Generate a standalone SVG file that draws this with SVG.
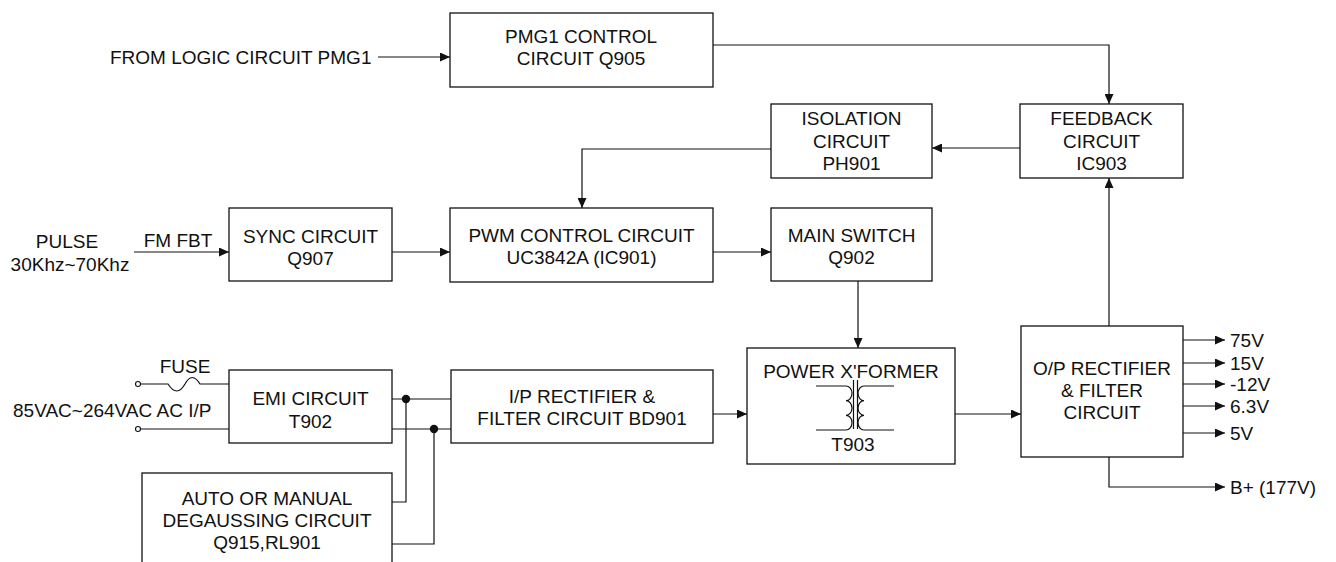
<svg xmlns="http://www.w3.org/2000/svg" width="1336" height="562" viewBox="0 0 1336 562">
<style>
text{font-family:"Liberation Sans",Arial,sans-serif;font-size:19px;fill:#111}
.c{text-anchor:middle}
.box{fill:#fff;stroke:#111;stroke-width:1.3}
.ln{fill:none;stroke:#111;stroke-width:1.2}
.ar{fill:none;stroke:#111;stroke-width:1.2;marker-end:url(#ah)}
</style>
<defs>
<marker id="ah" markerUnits="userSpaceOnUse" markerWidth="10" markerHeight="9" refX="10" refY="4.5" orient="auto">
<path d="M0,0 L10,4.5 L0,9 z" fill="#111"/>
</marker>
</defs>
<rect width="1336" height="562" fill="#fff"/>

<g id="connectors">
<path class="ar" d="M378,57 H450"/>
<path class="ar" d="M713,45 H1109 V104"/>
<path class="ar" d="M1020,148 H932"/>
<path class="ar" d="M771,149 H582 V208"/>
<path class="ar" d="M134,252 H229"/>
<path class="ar" d="M392,252 H450"/>
<path class="ar" d="M713,252 H771"/>
<path class="ar" d="M858,281 V348"/>
<path class="ar" d="M713,414 H747"/>
<path class="ar" d="M955,414 H1021"/>
<path class="ar" d="M1109,326 V178"/>
<path class="ar" d="M1183,340 H1225"/>
<path class="ar" d="M1183,363 H1225"/>
<path class="ar" d="M1183,384 H1225"/>
<path class="ar" d="M1183,406 H1225"/>
<path class="ar" d="M1183,433 H1225"/>
<path class="ar" d="M1109,457 V487 H1225"/>
<path class="ln" d="M392,399 H451"/>
<path class="ln" d="M392,429 H451"/>
<path class="ln" d="M406,399 V502 H392"/>
<path class="ln" d="M434,429 V544 H392"/>
<circle cx="406" cy="399" r="4.2" fill="#111"/>
<circle cx="434" cy="429" r="4.2" fill="#111"/>
<circle cx="138" cy="384" r="2.5" fill="#fff" stroke="#111" stroke-width="1.1"/>
<circle cx="138" cy="429" r="2.5" fill="#fff" stroke="#111" stroke-width="1.1"/>
<path class="ln" d="M140.5,384 H168 Q177,398 185,384 Q192,371 200,384 H229"/>
<path class="ln" d="M140.5,429 H229"/>
</g>

<g id="from-logic">
<text x="110" y="64">FROM LOGIC CIRCUIT PMG1</text>
</g>

<g id="pmg1-control">
<rect class="box" x="450" y="13" width="263" height="74"/>
<text class="c" x="581" y="43">PMG1 CONTROL</text>
<text class="c" x="581" y="65">CIRCUIT Q905</text>
</g>

<g id="isolation">
<rect class="box" x="771" y="104" width="161" height="74"/>
<text class="c" x="851.5" y="125">ISOLATION</text>
<text class="c" x="851.5" y="148">CIRCUIT</text>
<text class="c" x="851.5" y="170">PH901</text>
</g>

<g id="feedback">
<rect class="box" x="1020" y="104" width="163" height="74"/>
<text class="c" x="1101.5" y="125">FEEDBACK</text>
<text class="c" x="1101.5" y="148">CIRCUIT</text>
<text class="c" x="1101.5" y="170">IC903</text>
</g>

<g id="pulse">
<text class="c" x="67" y="248">PULSE</text>
<text class="c" x="70" y="271">30Khz~70Khz</text>
<text class="c" x="178" y="247">FM FBT</text>
</g>

<g id="sync">
<rect class="box" x="229" y="208" width="163" height="73"/>
<text class="c" x="310.5" y="243">SYNC CIRCUIT</text>
<text class="c" x="310.5" y="265">Q907</text>
</g>

<g id="pwm">
<rect class="box" x="450" y="208" width="263" height="74"/>
<text class="c" x="581.5" y="242">PWM CONTROL CIRCUIT</text>
<text class="c" x="581.5" y="264">UC3842A (IC901)</text>
</g>

<g id="main-switch">
<rect class="box" x="771" y="208" width="161" height="73"/>
<text class="c" x="851.5" y="242">MAIN SWITCH</text>
<text class="c" x="851.5" y="264">Q902</text>
</g>

<g id="ac-input">
<text class="c" x="185" y="373">FUSE</text>
<text x="13" y="417">85VAC~264VAC AC I/P</text>
</g>

<g id="emi">
<rect class="box" x="229" y="370" width="163" height="73"/>
<text class="c" x="310.5" y="405">EMI CIRCUIT</text>
<text class="c" x="310.5" y="428">T902</text>
</g>

<g id="degaussing">
<rect class="box" x="142" y="473" width="250" height="95"/>
<text class="c" x="267" y="505">AUTO OR MANUAL</text>
<text class="c" x="267" y="527">DEGAUSSING CIRCUIT</text>
<text class="c" x="267" y="549">Q915,RL901</text>
</g>

<g id="ip-rectifier">
<rect class="box" x="451" y="370" width="262" height="73"/>
<text class="c" x="582" y="403">I/P RECTIFIER &amp;</text>
<text class="c" x="582" y="425">FILTER CIRCUIT BD901</text>
</g>

<g id="power-xformer">
<rect class="box" x="747" y="348" width="208" height="116"/>
<text class="c" x="851" y="378">POWER X'FORMER</text>
<path class="ln" d="M816,386 H846 a6,7.33 0 0 1 0,14.67 a6,7.33 0 0 1 0,14.67 a6,7.33 0 0 1 0,14.67 H816"/>
<path class="ln" d="M894,386 H864 a6,7.33 0 0 0 0,14.67 a6,7.33 0 0 0 0,14.67 a6,7.33 0 0 0 0,14.67 H894"/>
<path class="ln" d="M853.5,380 V429 M857.5,380 V429"/>
<text class="c" x="853" y="451">T903</text>
</g>

<g id="op-rectifier">
<rect class="box" x="1021" y="326" width="162" height="131"/>
<text class="c" x="1102" y="375">O/P RECTIFIER</text>
<text class="c" x="1102" y="397">&amp; FILTER</text>
<text class="c" x="1102" y="419">CIRCUIT</text>
</g>

<g id="outputs">
<text x="1230" y="347">75V</text>
<text x="1230" y="370">15V</text>
<text x="1230" y="391">-12V</text>
<text x="1230" y="413">6.3V</text>
<text x="1230" y="440">5V</text>
<text x="1230" y="494">B+ (177V)</text>
</g>
</svg>
